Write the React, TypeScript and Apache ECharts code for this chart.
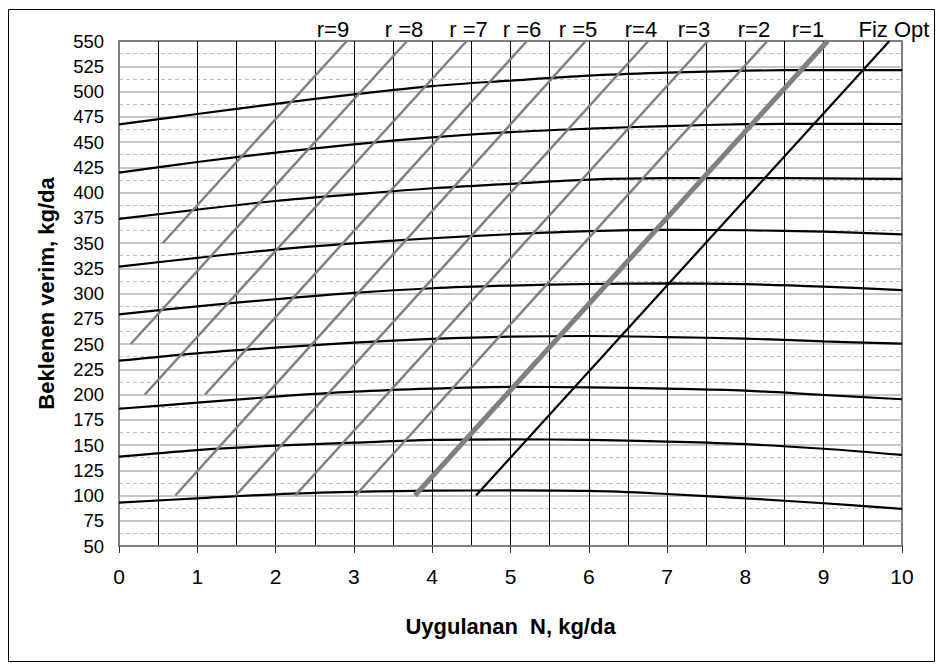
import React, { useEffect, useRef } from "react";
import * as echarts from "echarts";

// ---- data ----
const nValues = [0, 1, 2, 3, 4, 5, 6, 7, 8, 9, 10];

const yieldCurves: number[][] = [
  [467.5, 477.7, 487.8, 497.2, 505.4, 510.8, 515.7, 518.6, 520.6, 521.2, 521.2],
  [419.6, 430.2, 439.4, 447.7, 454.6, 459.8, 463.2, 465.8, 467.6, 468.0, 467.8],
  [373.8, 383.0, 391.6, 398.2, 404.2, 408.6, 412.8, 414.2, 414.3, 414.0, 413.4],
  [326.6, 335.3, 343.5, 349.7, 354.7, 358.7, 361.7, 362.9, 362.6, 361.2, 358.6],
  [279.4, 287.3, 294.3, 300.6, 305.2, 307.8, 309.4, 310.0, 309.2, 306.8, 303.4],
  [233.5, 240.8, 246.4, 251.3, 255.0, 257.3, 257.9, 256.9, 255.3, 252.6, 250.3],
  [185.9, 191.9, 197.9, 202.8, 205.8, 207.6, 207.0, 205.8, 203.8, 199.5, 195.3],
  [138.4, 145.0, 149.3, 152.3, 155.0, 155.6, 155.0, 153.3, 150.8, 146.3, 140.2],
  [92.9, 97.2, 101.2, 103.5, 104.8, 105.0, 104.5, 101.5, 97.2, 92.3, 86.8],
];

// isolines: start (N, yield) and end (N, yield)
const rNames = ["r=9", "r=8", "r=7", "r=6", "r=5", "r=4", "r=3", "r=2", "r=1"];
const rStartN = [0.56, 0.15, 0.33, 1.1, 0.72, 1.49, 2.25, 3.02, 3.78];
const rStartY = [350, 250, 200, 200, 100, 100, 100, 100, 100];
const rEndN = [2.91, 3.68, 4.44, 5.21, 5.96, 6.76, 7.52, 8.28, 9.05];
const rEndY = [550, 550, 550, 550, 550, 550, 550, 550, 550];

const fizStart = [4.56, 100];
const fizEnd = [9.84, 550];

const topLabels = ["r=9", "r =8", "r =7", "r =6", "r =5", "r=4", "r=3", "r=2", "r=1", "Fiz Opt"];

const xTitle = "Uygulanan  N, kg/da";
const yTitle = "Beklenen verim, kg/da";

// ---- layout (pixels) ----
const topLabelX = [325, 396, 460.5, 514, 570, 633, 686, 746, 800, 886];
const topLabelY = 21.5;
const FONT = "'Liberation Sans', Arial, sans-serif";

export default function App() {
  const ref = useRef<HTMLDivElement>(null);

  useEffect(() => {
    if (!ref.current) return;
    const chart = echarts.init(ref.current, undefined, { renderer: "svg" });

    const series: any[] = [];
    yieldCurves.forEach((vals, i) => {
      series.push({
        type: "line",
        name: "curve" + i,
        data: nValues.map((n, j) => [n, vals[j]]),
        smooth: 0.35,
        showSymbol: false,
        symbol: "none",
        lineStyle: { color: "#000", width: 2.2 },
        z: 3,
      });
    });
    rNames.forEach((nm, i) => {
      series.push({
        type: "line",
        name: nm,
        data: [
          [rStartN[i], rStartY[i]],
          [rEndN[i], rEndY[i]],
        ],
        showSymbol: false,
        symbol: "none",
        lineStyle: { color: "#808080", width: nm === "r=1" ? 5 : 2.5 },
        z: 4,
      });
    });
    series.push({
      type: "line",
      name: "Fiz Opt",
      data: [fizStart, fizEnd],
      showSymbol: false,
      symbol: "none",
      lineStyle: { color: "#000", width: 2.2 },
      z: 5,
    });

    const graphics: any[] = [
      {
        type: "rect",
        silent: true,
        shape: { x: 0.5, y: 1.5, width: 926, height: 652 },
        style: { fill: "none", stroke: "#000", lineWidth: 1 },
      },
    ];
    topLabels.forEach((t, i) => {
      graphics.push({
        type: "text",
        x: topLabelX[i],
        y: topLabelY,
        style: {
          text: t,
          fontSize: 22,
          fontFamily: FONT,
          fill: "#000",
          align: "center",
          verticalAlign: "middle",
        },
      });
    });

    chart.setOption({
      animation: false,
      textStyle: { fontFamily: FONT },
      grid: {
        left: 111,
        top: 33,
        width: 783,
        height: 505,
        show: true,
        borderColor: "#808080",
        borderWidth: 2,
        backgroundColor: "transparent",
      },
      xAxis: {
        type: "value",
        min: 0,
        max: 10,
        interval: 1,
        name: xTitle,
        nameLocation: "middle",
        nameGap: 69,
        nameTextStyle: { fontSize: 22, fontWeight: "bold", color: "#000", fontFamily: FONT },
        axisLine: { show: true, lineStyle: { color: "#808080", width: 2 } },
        axisTick: { show: true, inside: false, length: 7, lineStyle: { color: "#333", width: 1 } },
        axisLabel: { fontSize: 21, color: "#000", margin: 20, fontFamily: FONT },
        splitLine: {
          show: true,
          showMinLine: false,
          showMaxLine: false,
          lineStyle: { color: "#000", width: 1 },
        },
        minorTick: { show: false, splitNumber: 2 },
        minorSplitLine: { show: true, lineStyle: { color: "#000", width: 1 } },
      },
      yAxis: {
        type: "value",
        min: 50,
        max: 550,
        interval: 25,
        name: yTitle,
        nameLocation: "middle",
        nameGap: 62,
        nameRotate: 90,
        nameTextStyle: { fontSize: 22, fontWeight: "bold", color: "#000", fontFamily: FONT },
        axisLine: { show: true, lineStyle: { color: "#808080", width: 2 } },
        axisTick: { show: false },
        axisLabel: { fontSize: 18.5, color: "#000", margin: 15, fontFamily: FONT },
        splitLine: {
          show: true,
          showMinLine: false,
          showMaxLine: false,
          lineStyle: { color: "#b4b4b4", width: 1.5 },
        },
        minorTick: { show: false, splitNumber: 2 },
        minorSplitLine: { show: true, lineStyle: { color: "#c0c0c0", width: 1, type: [4, 3] } },
      },
      series,
      graphic: graphics,
    });

    return () => chart.dispose();
  }, []);

  return <div ref={ref} style={{ width: 928, height: 654 }} />;
}
